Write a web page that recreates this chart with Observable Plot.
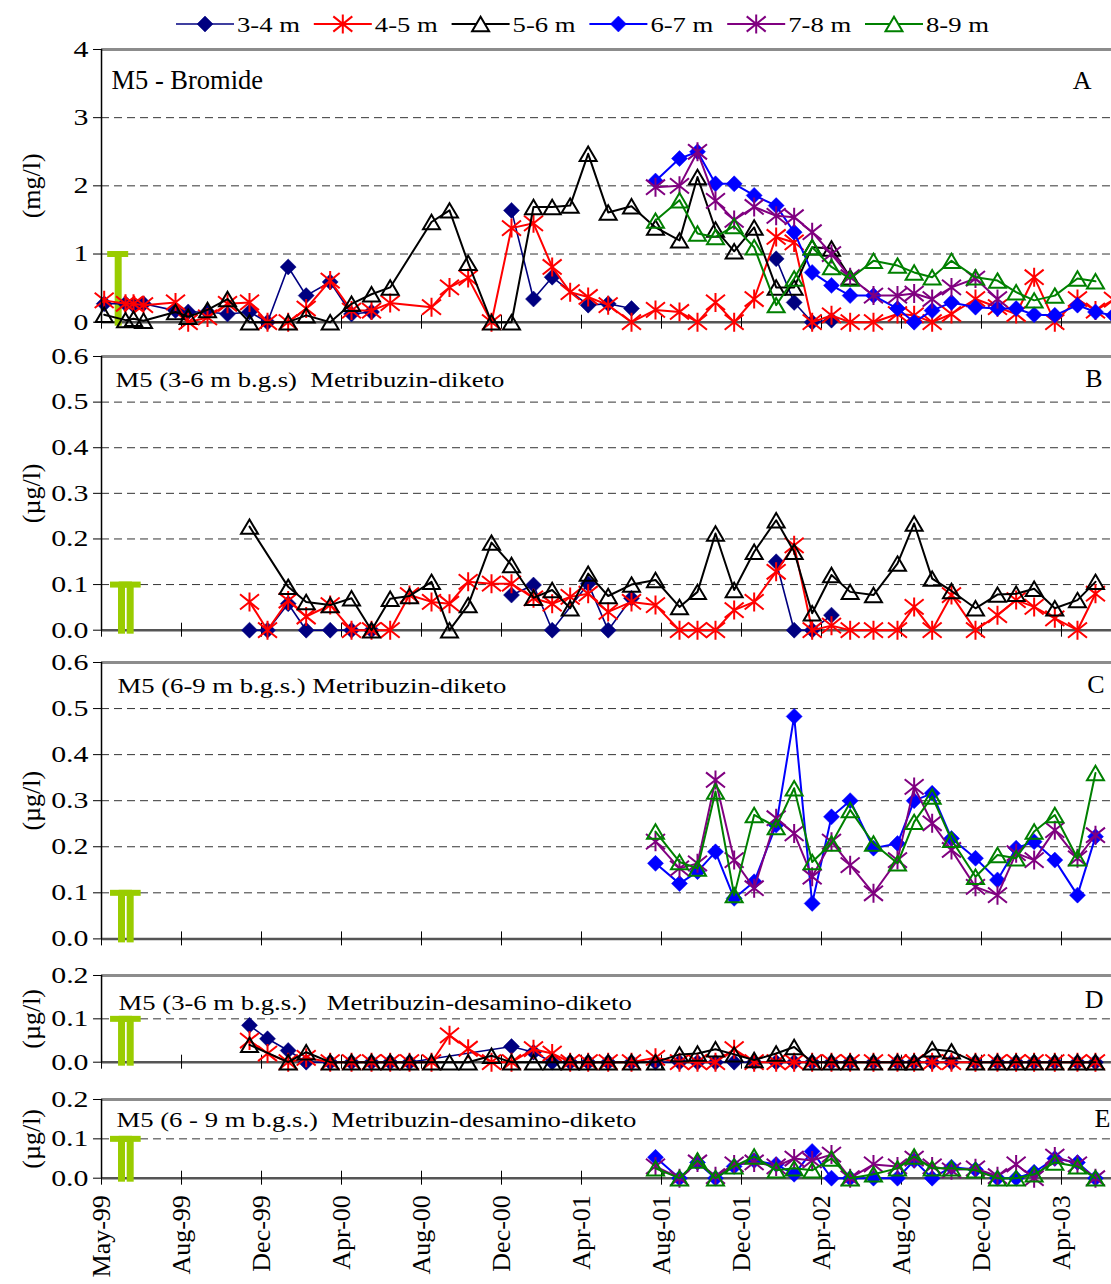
<!DOCTYPE html>
<html>
<head>
<meta charset="utf-8">
<script src="https://cdn.jsdelivr.net/npm/d3@7"></script>
<script src="https://cdn.jsdelivr.net/npm/@observablehq/plot@0.6"></script>
<style>
  body { margin: 0; background: #fff; }
  #chart { position: relative; width: 1111px; height: 1284px; overflow: hidden;
           font-family: "Liberation Serif", "Times New Roman", serif; }
  #chart > div { position: absolute; left: 0; }
  #chart svg { overflow: visible; }
  #chart text { white-space: pre; }
</style>
</head>
<body>
<div id="chart"></div>
<script>
const _ = null;

// Sampling dates (shared by all depths)
const dates = [
  "1999-05-05","1999-06-06","1999-06-18","1999-07-03","1999-08-20","1999-09-08","1999-10-07","1999-11-06","1999-12-09","2000-01-05",
  "2000-02-05","2000-03-03","2000-04-08","2000-05-10","2000-06-09","2000-07-07","2000-08-05","2000-09-07","2000-10-04","2000-11-01",
  "2000-12-06","2001-01-05","2001-02-07","2001-03-07","2001-04-03","2001-04-30","2001-05-30","2001-07-04","2001-08-09","2001-09-14",
  "2001-10-11","2001-11-07","2001-12-05","2002-01-04","2002-02-06","2002-03-05","2002-04-01","2002-04-30","2002-05-28","2002-07-02",
  "2002-08-07","2002-09-01","2002-09-28","2002-10-27","2002-12-02","2003-01-04","2003-02-01","2003-02-28","2003-03-31","2003-05-04",
  "2003-05-31","2003-06-27"
];

const seriesNames = ["3-4 m", "4-5 m", "5-6 m", "6-7 m", "7-8 m", "8-9 m"];

// A: bromide (mg/l); null = not sampled, NaN = break in the line
const bromide34 = [
  0.27,0.27,0.25,0.27,0.17,0.15,0.15,0.12,0.15,0,
  0.81,0.39,0.59,0.12,0.15,_,_,NaN,_,_,
  _,1.64,0.34,0.66,_,0.25,0.27,0.20,_,_,
  NaN,_,_,_,0.93,0.29,0,0.03,_,_,
  _,_,_,_,_,_,_,_,_,_,
  _,_];
const bromide45 = [
  0.32,0.27,0.27,0.25,0.29,0,0.07,0.27,0.29,0,
  0,0.20,0.61,0.17,0.17,0.28,_,0.22,0.51,0.65,
  0,1.38,1.45,0.81,0.44,0.37,0.25,0,0.18,0.15,
  0,0.29,0,0.34,1.25,1.17,0,0.10,0,0,
  0.12,0.10,0,0.12,0.34,0.22,0.12,0.66,0,0.34,
  0.17,0.33];
const bromide56 = [
  0.11,0.03,0.05,0.02,0.15,0.08,0.18,0.34,0,_,
  0,0.10,0,0.27,0.41,0.51,_,1.47,1.64,0.87,
  0,0,1.69,1.69,1.71,2.47,1.61,1.70,1.39,1.20,
  2.13,1.36,1.04,1.39,0.51,0.51,1.10,1.08,0.66,_,
  _,_,_,_,_,_,_,_,_,_,
  _,_];
const bromide67 = [
  _,_,_,_,_,_,_,_,_,_,
  _,_,_,_,_,_,_,_,_,_,
  _,_,_,_,_,_,_,_,2.07,2.40,
  2.50,2.03,2.03,1.86,1.71,1.32,0.73,0.54,0.39,0.39,
  0.20,0,0.17,0.29,0.22,0.20,0.20,0.11,0.10,0.25,
  0.15,0.10];
const bromide78 = [
  _,_,_,_,_,_,_,_,_,_,
  _,_,_,_,_,_,_,_,_,_,
  _,_,_,_,_,_,_,_,1.98,2.00,
  2.50,1.78,1.50,1.69,1.56,1.54,1.32,1.00,0.66,0.39,
  0.39,0.42,0.34,0.51,0.64,0.34,_,_,_,_,
  _,_];
const bromide89 = [
  _,_,_,_,_,_,_,_,_,_,
  _,_,_,_,_,_,_,_,_,_,
  _,_,_,_,_,_,_,_,1.49,1.79,
  1.30,1.25,1.41,1.10,0.25,0.64,1.10,0.81,0.64,0.90,
  0.83,0.73,0.66,0.90,0.66,0.61,0.44,0.32,0.39,0.64,
  0.60,_];

// B: metribuzin-diketo, 3-6 m (µg/l)
const diketo34 = [
  _,_,_,_,_,_,_,_,0,0,
  0.058,0,0,0,0,_,_,NaN,_,_,
  _,0.077,0.099,0,_,0.102,0,0.07,_,_,
  NaN,_,_,_,0.15,0,0,0.033,_,_,
  _,_,_,_,_,_,_,_,_,_,
  _,_];
const diketo45 = [
  _,_,_,_,_,_,_,_,0.062,0,
  0.065,0.03,0.055,0,0,0,0.077,0.062,0.058,0.106,
  0.102,0.102,0.07,0.058,0.073,0.08,0.04,0.062,0.055,0,
  0,0,0.044,0.062,0.128,0.186,0,0.01,0,0,
  0,0.051,0,0.077,0,0.033,0.066,0.051,0.026,0,
  0.08,_];
const diketo56 = [
  _,_,_,_,_,_,_,_,0.227,_,
  0.095,0.062,0.055,0.07,0,0.069,0.075,0.106,0,0.055,
  0.192,0.143,0.071,0.088,0.048,0.124,0.075,0.100,0.110,0.051,
  0.084,0.212,0.088,0.172,0.241,0.172,0.037,0.121,0.084,0.077,
  0.146,0.234,0.113,0.086,0.048,0.078,0.080,0.091,0.048,0.066,
  0.106,_];

// C: metribuzin-diketo, 6-9 m (µg/l)
const diketo67 = [
  _,_,_,_,_,_,_,_,_,_,
  _,_,_,_,_,_,_,_,_,_,
  _,_,_,_,_,_,_,_,0.164,0.12,
  0.146,0.189,0.088,0.124,0.247,0.483,0.077,0.265,0.30,0.197,
  0.207,0.30,0.316,0.218,0.175,0.128,0.197,0.211,0.171,0.095,
  0.222,_];
const diketo78 = [
  _,_,_,_,_,_,_,_,_,_,
  _,_,_,_,_,_,_,_,_,_,
  _,_,_,_,_,_,_,_,0.211,0.153,
  0.164,0.345,0.171,0.11,0.262,0.229,0.135,0.211,0.16,0.099,
  0.171,0.33,0.251,0.193,0.113,0.095,0.186,0.171,0.236,0.175,
  0.225,_];
const diketo89 = [
  _,_,_,_,_,_,_,_,_,_,
  _,_,_,_,_,_,_,_,_,_,
  _,_,_,_,_,_,_,_,0.233,0.167,
  0.153,0.32,0.095,0.269,0.243,0.327,0.167,0.207,0.28,0.207,
  0.164,0.254,0.309,0.215,0.135,0.182,0.175,0.233,0.269,0.175,
  0.36,_];

// D: metribuzin-desamino-diketo, 3-6 m (µg/l)
const desamino34 = [
  _,_,_,_,_,_,_,_,0.085,0.054,
  0.027,0,0,0,0,0,0,_,_,_,
  _,0.036,0.023,0,0,0,0,0,0,0,
  0,0,0,0,0,0,0,0,0,0,
  0,0,0,0,0,0,0,0,0,0,
  0,_];
const desamino45 = [
  _,_,_,_,_,_,_,_,0.05,0.02,
  0,0.01,0,0,0,0,0,0,0.062,0.031,
  0,0,0.03,0.02,0,0,0,0,0.01,0,
  0,0,0.03,0,0,0,0,0,0,0,
  0,0,0,0,0,0,0,0,0,0,
  0,_];
const desamino56 = [
  _,_,_,_,_,_,_,_,0.04,_,
  0,0.023,0,0,0,0,0,0,0,0,
  0.015,0,0,0,0,0,0,0,0,0.018,
  0.02,0.03,0.018,0.005,0.02,0.035,0,0,0,0,
  0,0,0.03,0.025,0,0,0,0,0,0,
  0,_];

// E: metribuzin-desamino-diketo, 6-9 m (µg/l)
const desamino67 = [
  _,_,_,_,_,_,_,_,_,_,
  _,_,_,_,_,_,_,_,_,_,
  _,_,_,_,_,_,_,_,0.053,0,
  0.04,0,0.03,0.045,0.035,0.01,0.068,0,0,0,
  0,0.045,0,0.028,0.022,0,0,0.015,0.05,0.04,
  0,_];
const desamino78 = [
  _,_,_,_,_,_,_,_,_,_,
  _,_,_,_,_,_,_,_,_,_,
  _,_,_,_,_,_,_,_,0.03,0,
  0.04,0.005,0.035,0.04,0.03,0.05,0.045,0.06,0,0.035,
  0.03,0.05,0.03,0.02,0.025,0.005,0.035,0,0.055,0.035,
  0,_];
const desamino89 = [
  _,_,_,_,_,_,_,_,_,_,
  _,_,_,_,_,_,_,_,_,_,
  _,_,_,_,_,_,_,_,0.025,0,
  0.045,0,0.03,0.055,0.02,0.025,0.02,0.05,0,0.01,
  0.025,0.055,0.025,0.025,0.02,0,0,0.01,0.04,0.03,
  0,_];

// Application markers
const bromideApplied = [{date: "1999-05-26", value: 1}];
const metribuzinApplied = [{date: "1999-05-31", value: 0.1}, {date: "1999-06-13", value: 0.1}];

// Axis ticks
const tickDates = ["1999-05-01","1999-08-29","1999-12-27","2000-04-25","2000-08-23","2000-12-21",
                   "2001-04-20","2001-08-18","2001-12-16","2002-04-15","2002-08-13","2002-12-11","2003-04-10"];
const tickLabels = ["May-99","Aug-99","Dec-99","Apr-00","Aug-00","Dec-00",
                    "Apr-01","Aug-01","Dec-01","Apr-02","Aug-02","Dec-02","Apr-03"];
const yTicksBromide = [0, 1, 2, 3, 4];
const yTicksDiketo = [0, 0.1, 0.2, 0.3, 0.4, 0.5, 0.6];
const yTicksDesamino = [0, 0.1, 0.2];

// ---------- drawing ----------
const xDomain = [new Date("1999-05-01"), new Date("2003-06-24")];
const tickDateObjs = tickDates.map(d => new Date(d));
const FONT = "'Liberation Serif', 'Times New Roman', serif";
const WIDEN = 1.27;

const symDiamond = {draw(c, s) { const r = Math.sqrt(s / Math.PI);
  c.moveTo(0, -r); c.lineTo(r, 0); c.lineTo(0, r); c.lineTo(-r, 0); c.closePath(); }};
const symStar = {draw(c, s) { const r = Math.sqrt(s / Math.PI);
  c.moveTo(0, -r); c.lineTo(0, r);
  c.moveTo(-r, -0.8 * r); c.lineTo(r, 0.8 * r);
  c.moveTo(-r, 0.8 * r); c.lineTo(r, -0.8 * r); }};
const symTriangle = {draw(c, s) { const r = Math.sqrt(s / Math.PI); const h = 0.85 * r;
  c.moveTo(0, -h); c.lineTo(r, h); c.lineTo(-r, h); c.closePath(); }};

const looks = [
  {color: "#000080", symbol: symDiamond, r: 8, filled: true, lw: 1.6},
  {color: "#ff0000", symbol: symStar, r: 9.5, filled: false, lw: 2},
  {color: "#000000", symbol: symTriangle, r: 8.5, filled: false, lw: 2},
  {color: "#0000ff", symbol: symDiamond, r: 8, filled: true, lw: 2},
  {color: "#800080", symbol: symStar, r: 9.5, filled: false, lw: 2},
  {color: "#008000", symbol: symTriangle, r: 8.5, filled: false, lw: 2}
];

function rows(values) {
  return dates.map((d, i) => ({date: new Date(d), value: values[i]})).filter(r => r.value !== null);
}

function seriesMarks(k, values) {
  const L = looks[k], data = rows(values);
  return [
    Plot.line(data, {x: "date", y: "value", stroke: L.color, strokeWidth: L.lw, strokeLinejoin: "round"}),
    Plot.dot(data, {x: "date", y: "value", symbol: L.symbol, r: L.r,
      fill: L.filled ? L.color : "none", stroke: L.color, strokeWidth: L.filled ? 0.5 : 2})
  ];
}

// stretch selected texts horizontally about their anchor point
function widen(svg, keep, k) {
  svg.querySelectorAll("text").forEach(t => {
    if (!keep(t.textContent)) return;
    const x = parseFloat(t.getAttribute("x")) || 0;
    const tr = t.getAttribute("transform") || "";
    t.removeAttribute("x");
    t.setAttribute("transform", `${tr} translate(${x},0) scale(${k},1)`);
  });
}

function panel(cfg) {
  const mt = 20, mb = cfg.xLabels ? 112 : 20;
  const height = cfg.bottom - cfg.top + mt + mb;
  const yMax = cfg.yTicks[cfg.yTicks.length - 1];
  const grid = cfg.yTicks.filter(t => t > 0 && t < yMax);
  const app = cfg.app.map(d => ({date: new Date(d.date), value: d.value}));
  const marks = [
    Plot.gridY(grid, {stroke: "#333", strokeOpacity: 1, strokeWidth: 1, strokeDasharray: "8,5"}),
    Plot.ruleY([yMax], {stroke: "#8c8c8c", strokeWidth: 3}),
    Plot.ruleY([0], {stroke: "#555", strokeWidth: 2.5}),
    Plot.ruleX(tickDateObjs, {x: d => d, y1: 0, y2: 0, insetTop: -7, insetBottom: -7, stroke: "#000", strokeWidth: 1}),
    Plot.ruleX(app, {x: "date", y1: "value", y2: 0, insetBottom: -4, stroke: "#99cc00", strokeWidth: 7}),
    Plot.ruleY(app, {y: "value", x1: "date", x2: "date", insetLeft: -cfg.capHalf, insetRight: -cfg.capHalf,
      stroke: "#99cc00", strokeWidth: 6}),
    ...cfg.series.flatMap(([k, values]) => seriesMarks(k, values)),
    Plot.ruleX([xDomain[0]], {stroke: "#000", strokeWidth: 1.5}),
    Plot.axisY(cfg.yTicks, {tickSize: 8, tickPadding: 5, tickFormat: cfg.yFormat, fontSize: 23}),
    Plot.text([cfg.label], {frameAnchor: "left", textAnchor: "middle", lineAnchor: "middle",
      rotate: -90, dx: -70, fontSize: 26}),
    Plot.text([cfg.title], {frameAnchor: "top-left", lineAnchor: "top", textAnchor: "start",
      dx: cfg.titleDx, dy: cfg.titleDy, fontSize: cfg.titleSize}),
    Plot.text([cfg.letter], {frameAnchor: "top-right", lineAnchor: "top", textAnchor: "end",
      dx: cfg.letterDx, dy: cfg.letterDy, fontSize: 26})
  ];
  if (cfg.xLabels) {
    marks.push(Plot.axisX(tickDateObjs, {tickSize: 0, tickPadding: 17, tickRotate: -90, fontSize: 26,
      tickFormat: d => tickLabels[tickDateObjs.findIndex(t => +t === +d)]}));
  }
  const svg = Plot.plot({
    width: 1111, height, marginLeft: 101, marginRight: 0, marginTop: mt, marginBottom: mb,
    style: {fontFamily: FONT, fontSize: "23px", background: "transparent", color: "#000"},
    x: {type: "utc", domain: xDomain, axis: null, label: null},
    y: {domain: [0, yMax], axis: null, label: null},
    marks
  });
  const tickTexts = new Set(cfg.yTicks.map(cfg.yFormat));
  widen(svg, s => tickTexts.has(s), 1.3);
  if (cfg.widenTitle) widen(svg, s => s === cfg.title, WIDEN);
  const holder = document.createElement("div");
  holder.style.top = (cfg.top - mt) + "px";
  holder.appendChild(svg);
  document.getElementById("chart").appendChild(holder);
}

const fmt1 = d => d.toFixed(1);

// dy values place the text baseline (top line anchor sits 0.71em above it)
panel({top: 49, bottom: 321.7, yTicks: yTicksBromide, yFormat: d => String(d), label: "(mg/l)",
  title: "M5 - Bromide", titleSize: 26.5, widenTitle: false, titleDx: 10, titleDy: 21,
  letter: "A", letterDx: -20, letterDy: 21, app: bromideApplied, capHalf: 10.5,
  series: [[0, bromide34], [1, bromide45], [2, bromide56], [3, bromide67], [4, bromide78], [5, bromide89]]});

panel({top: 356.3, bottom: 630, yTicks: yTicksDiketo, yFormat: fmt1, label: "(µg/l)",
  title: "M5 (3-6 m b.g.s)  Metribuzin-diketo", titleSize: 21, widenTitle: true, titleDx: 14, titleDy: 16,
  letter: "B", letterDx: -9, letterDy: 12.5, app: metribuzinApplied, capHalf: 11,
  series: [[0, diketo34], [1, diketo45], [2, diketo56]]});

panel({top: 662.3, bottom: 938.7, yTicks: yTicksDiketo, yFormat: fmt1, label: "(µg/l)",
  title: "M5 (6-9 m b.g.s.) Metribuzin-diketo", titleSize: 21, widenTitle: true, titleDx: 16, titleDy: 16,
  letter: "C", letterDx: -7, letterDy: 12, app: metribuzinApplied, capHalf: 11,
  series: [[3, diketo67], [4, diketo78], [5, diketo89]]});

panel({top: 975, bottom: 1061.7, yTicks: yTicksDesamino, yFormat: fmt1, label: "(µg/l)",
  title: "M5 (3-6 m b.g.s.)   Metribuzin-desamino-diketo", titleSize: 21, widenTitle: true, titleDx: 17, titleDy: 20,
  letter: "D", letterDx: -8, letterDy: 14.5, app: metribuzinApplied, capHalf: 11,
  series: [[0, desamino34], [1, desamino45], [2, desamino56]]});

panel({top: 1099, bottom: 1177.7, yTicks: yTicksDesamino, yFormat: fmt1, label: "(µg/l)",
  title: "M5 (6 - 9 m b.g.s.)  Metribuzin-desamino-diketo", titleSize: 21, widenTitle: true, titleDx: 15, titleDy: 13,
  letter: "E", letterDx: -1, letterDy: 9.5, app: metribuzinApplied, capHalf: 11, xLabels: true,
  series: [[3, desamino67], [4, desamino78], [5, desamino89]]});

// Legend
const legend = d3.create("svg").attr("width", 1111).attr("height", 44)
  .style("font-family", FONT).style("overflow", "visible");
seriesNames.forEach((name, i) => {
  const L = looks[i], x0 = 176 + i * 137.8;
  const g = legend.append("g").attr("transform", `translate(${x0},0)`);
  g.append("line").attr("x1", 0).attr("x2", 58).attr("y1", 24).attr("y2", 24)
    .attr("stroke", L.color).attr("stroke-width", L.lw);
  g.append("path").attr("transform", "translate(29,24)")
    .attr("d", d3.symbol(L.symbol, L.r * L.r * Math.PI)())
    .attr("fill", L.filled ? L.color : "#fff").attr("stroke", L.color).attr("stroke-width", L.filled ? 0.5 : 2);
  g.append("text").attr("transform", `translate(61,31.5) scale(${WIDEN},1)`)
    .attr("font-size", 21).attr("fill", "#000").text(name);
});
const lh = document.createElement("div");
lh.style.top = "0px";
lh.appendChild(legend.node());
document.getElementById("chart").appendChild(lh);
</script>
</body>
</html>
